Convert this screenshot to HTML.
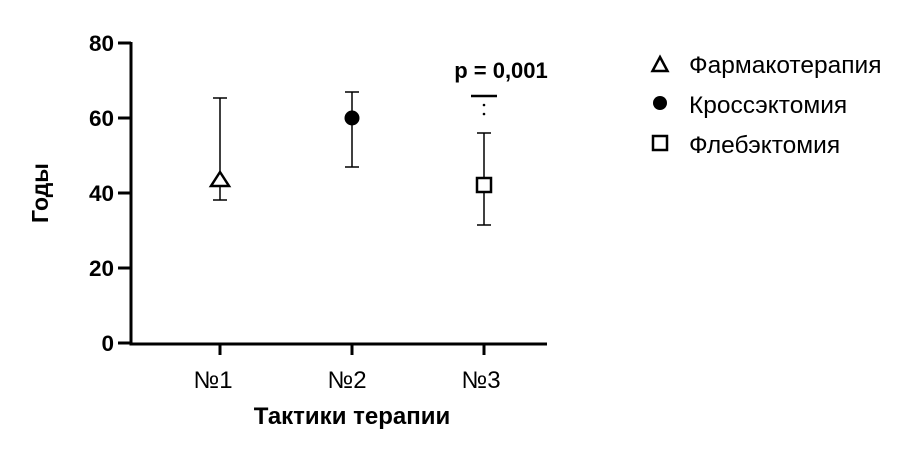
<!DOCTYPE html>
<html><head><meta charset="utf-8"><style>body{margin:0;background:#fff}</style></head><body>
<svg width="907" height="452" xmlns="http://www.w3.org/2000/svg" font-family="Liberation Sans, sans-serif">
<rect width="907" height="452" fill="#fff"/>
<g stroke="#000" stroke-width="3" fill="none">
<path d="M131 42 V344 H547"/>
<path d="M118 43H131M118 118H131M118 193H131M118 268H131M118 343H131"/>
<path d="M220 344V355M352 344V355M484 344V355"/>
</g>
<g font-size="22.5" font-weight="bold" text-anchor="end">
<text x="114" y="51">80</text><text x="114" y="126">60</text><text x="114" y="201">40</text><text x="114" y="276">20</text><text x="114" y="351">0</text>
</g>
<g font-size="24" text-anchor="middle">
<text x="213" y="388">№1</text><text x="347" y="388">№2</text><text x="481" y="388">№3</text>
</g>
<text x="352" y="424" font-size="24" font-weight="bold" text-anchor="middle">Тактики терапии</text>
<text transform="translate(48 193) rotate(-90)" font-size="23" font-weight="bold" text-anchor="middle">Годы</text>
<g stroke="#000" stroke-width="1.5" fill="none">
<path d="M220 98V200M213 98H227M213 200H227"/>
<path d="M352 92V167M345 92H359M345 167H359"/>
<path d="M484 133V225M477 133H491M477 225H491"/>
</g>
<path d="M220 172L229 186H211Z" fill="#fff" stroke="#000" stroke-width="2.5"/>
<circle cx="352" cy="118" r="7.5" fill="#000"/>
<rect x="477" y="178" width="14" height="14" fill="#fff" stroke="#000" stroke-width="2.5"/>
<path d="M471 96H497" stroke="#000" stroke-width="2.5"/>
<circle cx="484" cy="105" r="1.3" fill="#000"/><circle cx="484" cy="114" r="1.3" fill="#000"/>
<text x="501" y="78" font-size="22" font-weight="bold" text-anchor="middle">p = 0,001</text>
<path d="M660 57L667.5 71H652.5Z" fill="#fff" stroke="#000" stroke-width="2.5"/>
<circle cx="660" cy="103" r="7" fill="#000"/>
<rect x="653" y="136" width="14" height="14" fill="#fff" stroke="#000" stroke-width="2.5"/>
<g font-size="24.5">
<text x="689" y="73">Фармакотерапия</text><text x="689" y="113">Кроссэктомия</text><text x="689" y="153">Флебэктомия</text>
</g>
</svg>
</body></html>
